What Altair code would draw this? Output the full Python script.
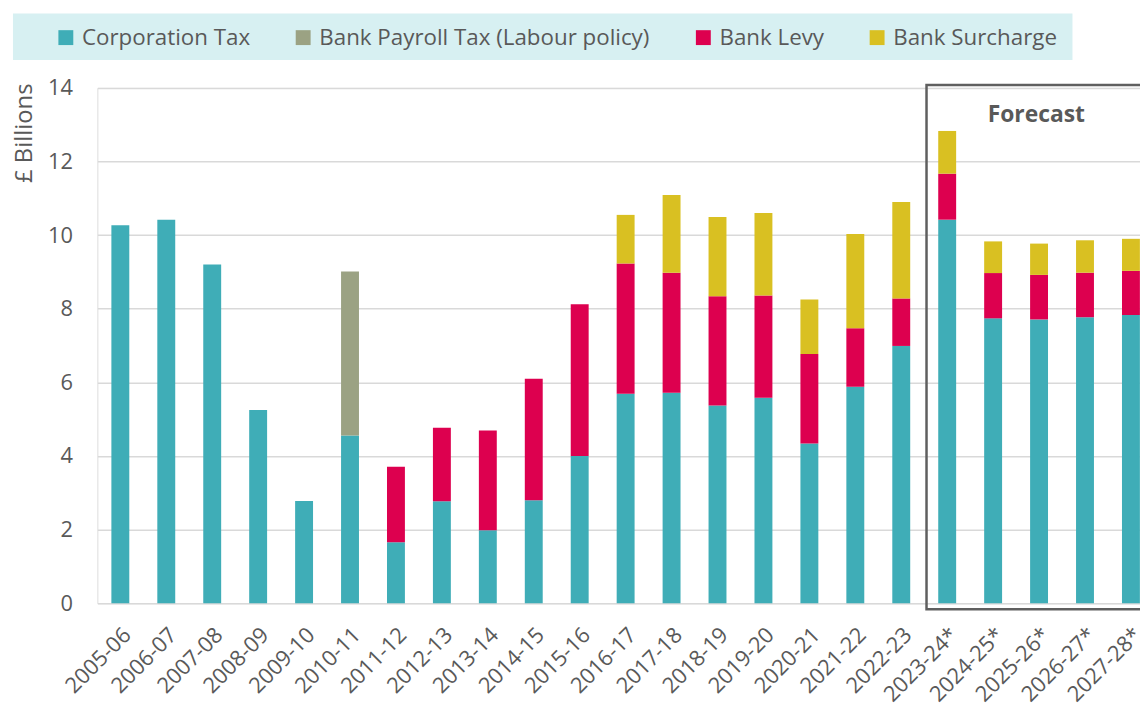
import altair as alt
import pandas as pd

categories = ["2005-06", "2006-07", "2007-08", "2008-09", "2009-10", "2010-11",
              "2011-12", "2012-13", "2013-14", "2014-15", "2015-16", "2016-17",
              "2017-18", "2018-19", "2019-20", "2020-21", "2021-22", "2022-23",
              "2023-24*", "2024-25*", "2025-26*", "2026-27*", "2027-28*"]

corporation_tax = [10.27, 10.42, 9.20, 5.25, 2.78, 4.56, 1.66, 2.77, 1.98, 2.80, 4.00, 5.69,
                   5.72, 5.37, 5.58, 4.34, 5.88, 6.99, 10.42, 7.74, 7.71, 7.77, 7.83]
bank_payroll_tax = [0, 0, 0, 0, 0, 4.45, 0, 0, 0, 0, 0, 0,
                    0, 0, 0, 0, 0, 0, 0, 0, 0, 0, 0]
bank_levy = [0, 0, 0, 0, 0, 0, 2.05, 2.00, 2.71, 3.30, 4.12, 3.54,
             3.26, 2.97, 2.78, 2.43, 1.59, 1.29, 1.25, 1.23, 1.21, 1.21, 1.20]
bank_surcharge = [0, 0, 0, 0, 0, 0, 0, 0, 0, 0, 0, 1.32,
                  2.11, 2.15, 2.24, 1.48, 2.56, 2.62, 1.16, 0.86, 0.85, 0.88, 0.87]

series_names = ["Corporation Tax", "Bank Payroll Tax (Labour policy)", "Bank Levy", "Bank Surcharge"]
series_colors = ["#3fadb7", "#9ba283", "#dd004f", "#d9c022"]
series_values = [corporation_tax, bank_payroll_tax, bank_levy, bank_surcharge]

# Forecast annotation (in band-step units along x, £bn along y)
forecast_label = "Forecast"
forecast_x = [18.05, 23.3]
forecast_y = [-0.16, 14.08]
forecast_text_pos = [20.44, 13.06]

rows = []
for si, (name, vals) in enumerate(zip(series_names, series_values)):
    for cat, v in zip(categories, vals):
        if v > 0:
            rows.append({"year": cat, "series": name, "value": v, "order": si})
df = pd.DataFrame(rows)

FONT = "Open Sans"
TXT = "#595959"
YSCALE = dict(domain=[0, 14], nice=False)

bars = alt.Chart(df).mark_bar().encode(
    x=alt.X("year:N", sort=categories,
            scale=alt.Scale(paddingInner=0.61, paddingOuter=0.305),
            axis=alt.Axis(title=None, labelAngle=-45, labelFontSize=22, labelColor=TXT,
                          labelFont=FONT, labelPadding=21, ticks=False, domain=False,
                          labelOverlap=False)),
    y=alt.Y("value:Q", stack="zero",
            scale=alt.Scale(**YSCALE),
            axis=alt.Axis(title="£ Billions", values=[0, 2, 4, 6, 8, 10, 12, 14],
                          labelFontSize=22, labelColor=TXT, labelFont=FONT,
                          labelPadding=25, ticks=False, domain=False,
                          gridColor="#d9d9d9", gridWidth=1.5,
                          titleFontSize=24, titleFont=FONT, titleColor=TXT,
                          titleFontWeight="normal", titleAngle=270,
                          titleAlign="right", titleBaseline="alphabetic",
                          titleX=-66, titleY=-5)),
    color=alt.Color("series:N", scale=alt.Scale(domain=series_names, range=series_colors),
                    legend=alt.Legend(title=None, orient="none", legendX=-43, legendY=-62,
                                      direction="horizontal", symbolType="square",
                                      symbolSize=225, symbolStrokeWidth=0,
                                      labelFontSize=22.5, labelFont=FONT, labelColor=TXT,
                                      labelLimit=600, labelOffset=5, columnPadding=42,
                                      padding=0)),
    order=alt.Order("order:Q"),
)

legend_bg = alt.Chart(pd.DataFrame({"a": [0]})).mark_rect(color="#d7f0f2").encode(
    x=alt.value(-85), x2=alt.value(982), y=alt.value(-75), y2=alt.value(-28)
)

box_df = pd.DataFrame({"x": [forecast_x[0]], "x2": [forecast_x[1]],
                       "y": [forecast_y[0]], "y2": [forecast_y[1]]})
box = alt.Chart(box_df).mark_rect(fill=None, stroke="#5f5f5f", strokeWidth=2.5).encode(
    x=alt.X("x:Q", scale=alt.Scale(domain=[0, 23], nice=False), axis=None),
    x2="x2:Q",
    y=alt.Y("y:Q", scale=alt.Scale(**YSCALE), axis=None),
    y2="y2:Q",
)

txt_df = pd.DataFrame({"x": [forecast_text_pos[0]], "y": [forecast_text_pos[1]], "t": [forecast_label]})
txt = alt.Chart(txt_df).mark_text(font=FONT, fontSize=23, fontWeight="bold", color=TXT,
                                  align="center", baseline="alphabetic").encode(
    x=alt.X("x:Q", scale=alt.Scale(domain=[0, 23], nice=False), axis=None),
    y=alt.Y("y:Q", scale=alt.Scale(**YSCALE), axis=None),
    text="t:N",
)

chart = alt.layer(legend_bg, bars, box, txt).resolve_scale(
    x="independent", y="independent"
).properties(
    width=1064, height=519,
    padding={"left": 90, "top": 78, "right": -14, "bottom": 98},
    autosize="none",
).configure_view(stroke=None, strokeWidth=0).configure(background="white")

chart.save("out.html", embed_options={"renderer": "svg", "actions": False})
